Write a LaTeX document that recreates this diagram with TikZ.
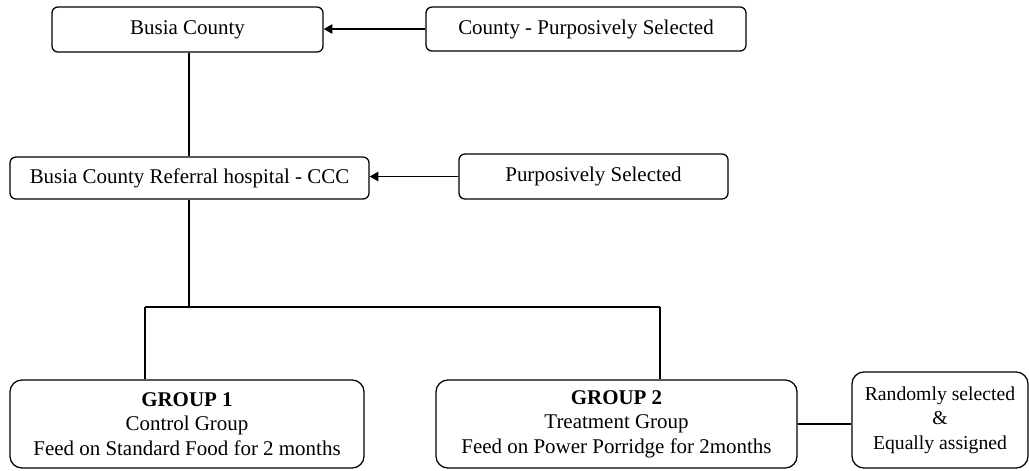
\documentclass[tikz,border=0pt]{standalone}
\usepackage{fontspec}
\setmainfont{Liberation Serif}
\usetikzlibrary{arrows.meta}

\begin{document}
\begin{tikzpicture}[x=0.025cm, y=-0.025cm, line width=0.9pt,
		box/.style={draw, rounded corners=4.3pt, inner sep=0pt, align=center,
			font=\fontsize{14.9}{17.5}\selectfont},
		groupbox/.style={box, rounded corners=8.5pt}]
			\useasboundingbox (0,0) rectangle (1029,470);

			\node [box, minimum width=6.775cm, minimum height=1.125cm] (busia) at (187.5,29.5) {Busia County};
			\node [box, minimum width=8cm, minimum height=1.1cm] (countysel) at (586,29) {County - Purposively Selected};
			\node [box, minimum width=8.975cm, minimum height=1.05cm] (hosp) at (189.5,178) {Busia County Referral hospital - CCC};
			\node [box, minimum width=6.725cm, minimum height=1.125cm] (purpsel) at (593.5,176.5) {Purposively Selected};

			\node [groupbox, minimum width=8.85cm, minimum height=2.2cm] (grp1) at (187,424)
				{\textbf{GROUP 1}\\Control Group\\Feed on Standard Food for 2 months};
			\node [groupbox, minimum width=9.025cm, minimum height=2.2cm] (grp2) at (616.5,424)
				{\textbf{GROUP 2}\\Treatment Group\\Feed on Power Porridge for 2months};
			\node [groupbox, minimum width=4.4cm, minimum height=2.4cm,
				font=\fontsize{14}{17.5}\selectfont] (rand) at (940,420)
				{Randomly selected\\\&\\Equally assigned};

			\coordinate (split) at (189,307);
			\coordinate (lbend) at (145,307);
			\coordinate (rbend) at (660,307);

			\draw (busia.south -| split) -- (hosp.north -| split);
			\draw (hosp.south -| split) -- (split);
			\draw (lbend) -- (rbend);
			\draw (lbend) -- (lbend |- grp1.north);
			\draw (rbend) -- (rbend |- grp2.north);
			\draw (grp2.east) -- (grp2.east -| rand.west);

			\begin{scope}[-{Triangle[length=0.22cm, width=0.24cm]}]
				\draw (countysel.west) -- (countysel.west -| busia.east);
				\draw (purpsel.west) -- (purpsel.west -| hosp.east);
			\end{scope}
		\end{tikzpicture}
\end{document}
